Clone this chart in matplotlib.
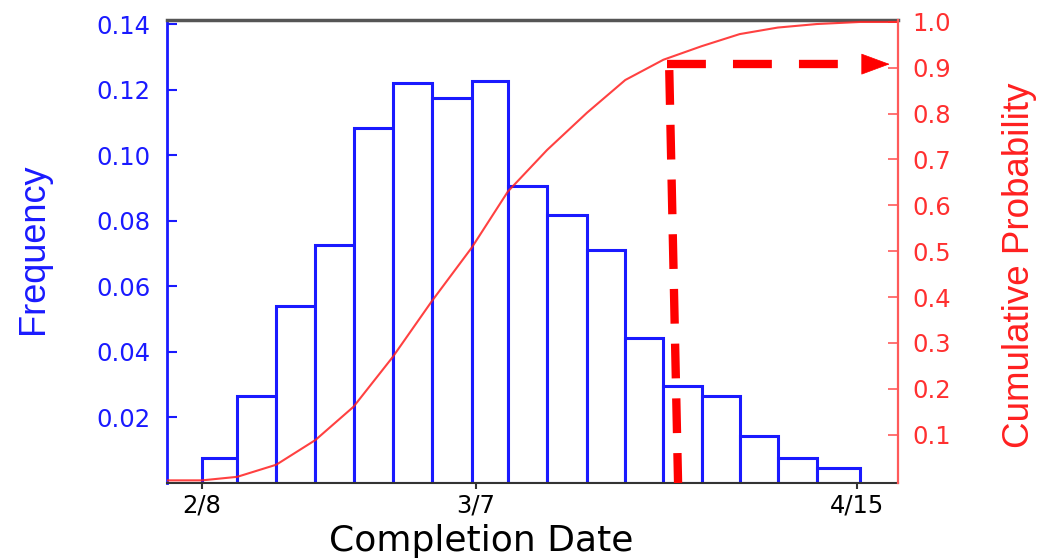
import numpy as np
import matplotlib
matplotlib.use("Agg")
import matplotlib.pyplot as plt

# histogram of simulated completion dates (days after 2/8)
bin_edges = [0.0, 3.6, 7.6, 11.6, 15.5, 19.5, 23.5, 27.6, 31.3, 35.3,
             39.4, 43.3, 47.2, 51.1, 55.0, 58.9, 62.9, 67.3]
frequency = [0.0077, 0.0265, 0.0539, 0.0727, 0.1084, 0.1220, 0.1175,
             0.1227, 0.0905, 0.0817, 0.0712, 0.0443, 0.0295, 0.0265,
             0.0143, 0.0077, 0.0045]

start_date = np.datetime64("2008-02-08")
tick_dates = np.array(["2008-02-08", "2008-03-07", "2008-04-15"], dtype="datetime64[D]")
tick_labels = ["2/8", "3/7", "4/15"]

left_ticks = [0.02, 0.04, 0.06, 0.08, 0.10, 0.12, 0.14]
right_ticks = [0.1, 0.2, 0.3, 0.4, 0.5, 0.6, 0.7, 0.8, 0.9, 1.0]

# the 90% completion marker
target_prob = 0.908
target_day = 48.2

BLUE = "#1a1aff"
RED = "#ff2020"

plt.rcParams["lines.scale_dashes"] = False

fig = plt.figure(figsize=(10.43, 5.59), dpi=100)
ax = fig.add_axes([0.1601, 0.136, 0.7009, 0.8283])
ax2 = ax.twinx()

edges = np.array(bin_edges)
freq = np.array(frequency)
ax.bar(edges[:-1], freq, width=np.diff(edges), align="edge",
       facecolor="white", edgecolor=BLUE, linewidth=2.2)

xmin, xmax = -3.58, 71.2
ax.set_xlim(xmin, xmax)
ax.set_ylim(0, 0.1413)
ax.set_yticks(left_ticks)
ax.set_yticklabels(["%.2f" % v for v in left_ticks])

tick_pos = (tick_dates - start_date).astype(int)
ax.set_xticks(tick_pos)
ax.set_xticklabels(tick_labels)

# cumulative probability from the bars
cum = np.cumsum(freq) / freq.sum()
cx = np.concatenate([[xmin], edges, [xmax]])
cy = np.concatenate([[0, 0], cum, [1.0]])
ax2.plot(cx, cy, color=RED, lw=1.5, alpha=0.85)
ax2.set_ylim(-0.0057, 1.0044)
ax2.set_yticks(right_ticks)
ax2.set_yticklabels(["%.1f" % v for v in right_ticks])

# dashed marker: vertical from the date up to 0.9, then across to the axis
ax2.plot([target_day - 0.4, target_day + 0.5], [target_prob - 0.013, -0.0057],
         color="red", lw=6, dashes=(25, 14.4), solid_capstyle="butt")
ax2.plot([target_day - 0.6, 67.6], [target_prob, target_prob],
         color="red", lw=6, dashes=(28, 19.5), solid_capstyle="butt")
ax2.annotate("", xy=(70.35, target_prob), xytext=(67.6, target_prob),
             arrowprops=dict(arrowstyle="-|>,head_length=1.0,head_width=0.37",
                             mutation_scale=19.4, color="red", lw=0.5,
                             shrinkA=0, shrinkB=0))

# spines
ax.spines["left"].set_color(BLUE)
ax.spines["left"].set_linewidth(2)
ax.spines["right"].set_visible(False)
ax.spines["top"].set_color("#555555")
ax.spines["top"].set_linewidth(2.5)
ax.spines["bottom"].set_color("#333333")
ax.spines["bottom"].set_linewidth(1.5)
for s in ["left", "top", "bottom"]:
    ax2.spines[s].set_visible(False)
ax2.spines["right"].set_color("#ff5a5a")
ax2.spines["right"].set_linewidth(1.6)

ax.tick_params(axis="y", direction="in", length=7, width=1.5, colors=BLUE,
               labelsize=17.5, pad=12)
ax.tick_params(axis="x", direction="out", length=4.5, width=1.5,
               color="#333333", labelcolor="black", labelsize=17.5, pad=3)
ax2.tick_params(axis="y", direction="in", length=7, width=1.2, color="#ff5a5a",
                labelcolor="#ff3030", labelsize=17.5, pad=10)

fig.text(0.032, 0.556, "Frequency", rotation=90, ha="center", va="center",
         color=BLUE, fontsize=26, family="Liberation Sans")
fig.text(0.977, 0.526, "Cumulative Probability", rotation=90, ha="center",
         va="center", color=RED, fontsize=26.5, family="Liberation Sans")
fig.text(0.461, 0.032, "Completion Date", ha="center", va="center",
         color="black", fontsize=26)

fig.savefig("out.png", dpi=100)
